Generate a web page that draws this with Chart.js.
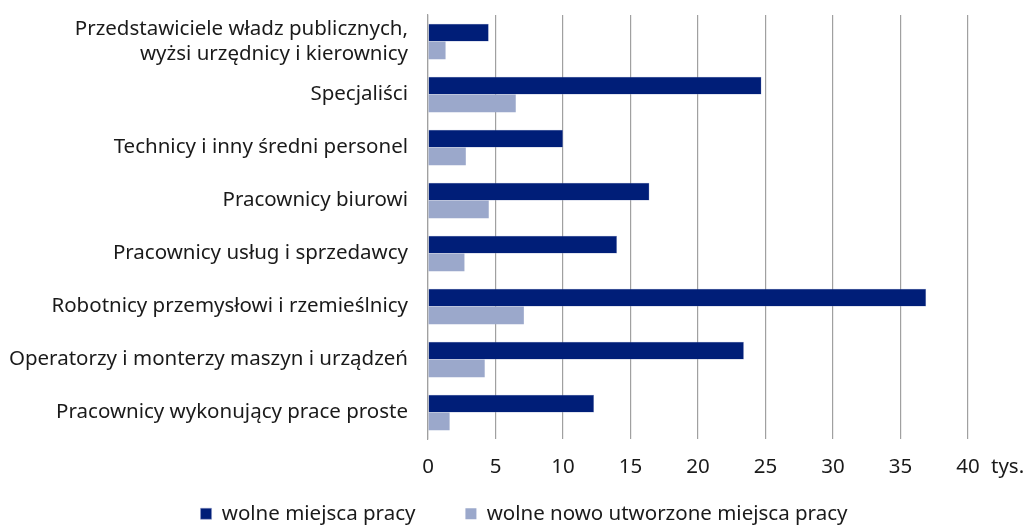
<!DOCTYPE html>
<html lang="pl">
<head>
<meta charset="utf-8">
<script src="https://cdn.jsdelivr.net/npm/chart.js@4"></script>
<style>
  html, body { margin: 0; padding: 0; background: #fff; }
  #wrap { width: 1025px; height: 527px; }
</style>
</head>
<body>
<div id="wrap"><canvas id="barChart"></canvas></div>
<script>
// kategorie zawodów
const categories = [
    ["Przedstawiciele władz publicznych,", "wyżsi urzędnicy i kierownicy"],
    "Specjaliści",
    "Technicy i inny średni personel",
    "Pracownicy biurowi",
    "Pracownicy usług i sprzedawcy",
    "Robotnicy przemysłowi i rzemieślnicy",
    "Operatorzy i monterzy maszyn i urządzeń",
    "Pracownicy wykonujący prace proste"
];

// wartości w tys.
const wolneMiejsca = [4.5, 24.7, 10.0, 16.4, 14.0, 36.9, 23.4, 12.3];
const noweMiejsca = [1.3, 6.5, 2.8, 4.5, 2.7, 7.1, 4.2, 1.6];

const seriesLabels = ["wolne miejsca pracy", "wolne nowo utworzone miejsca pracy"];
const xMax = 40;
const xStep = 5;
const unitLabel = "tys.";

const FONT = "'Noto Sans', sans-serif";
const FONT_SIZE = 20.5;
const PAD_LEFT = 80; // przesuwa legendę w prawo

// napis "tys." za ostatnią etykietą osi X
const unitPlugin = {
    id: "unitLabel",
    afterDraw(chart) {
        const x = chart.scales.x;
        const ctx = chart.ctx;
        ctx.save();
        ctx.font = FONT_SIZE + "px " + FONT;
        ctx.fillStyle = "#1a1a1a";
        ctx.textAlign = "left";
        ctx.textBaseline = "middle";
        ctx.fillText(unitLabel, x.getPixelForValue(xMax) + 23, x.top + 28);
        ctx.restore();
    }
};

function drawBarChart() {
    const ctx = document.getElementById("barChart").getContext("2d");
    new Chart(ctx, {
        type: "bar",
        data: {
            labels: categories,
            datasets: [
                {
                    label: seriesLabels[0],
                    data: wolneMiejsca,
                    backgroundColor: "#001E78",
                    borderColor: "#8a97c4",
                    borderWidth: 0.5
                },
                {
                    label: seriesLabels[1],
                    data: noweMiejsca,
                    backgroundColor: "#9BA8CB",
                    borderWidth: 0
                }
            ]
        },
        options: {
            indexAxis: "y",
            responsive: true,
            maintainAspectRatio: false,
            animation: false,
            layout: { padding: { top: 15, right: 57, left: PAD_LEFT, bottom: -7 } },
            datasets: {
                bar: { categoryPercentage: 0.67, barPercentage: 1 }
            },
            plugins: {
                tooltip: { enabled: false },
                legend: {
                    position: "bottom",
                    labels: {
                        boxWidth: 11,
                        boxHeight: 11,
                        padding: 50,
                        color: "#1a1a1a",
                        font: { family: FONT, size: FONT_SIZE }
                    }
                }
            },
            scales: {
                x: {
                    min: 0,
                    max: xMax,
                    // niska oś, etykiety wchodzą pod legendę (bez przycinania)
                    afterFit: scale => {
                        scale.height = 14.5;
                        scale._computeLabelArea = () => undefined;
                    },
                    grid: { color: "#a0a0a0", lineWidth: 1.2, drawTicks: false },
                    border: { display: false },
                    ticks: {
                        stepSize: xStep,
                        padding: 16,
                        color: "#1a1a1a",
                        font: { family: FONT, size: FONT_SIZE }
                    }
                },
                y: {
                    afterFit: scale => {
                        scale.width = 428 - PAD_LEFT;
                        scale.paddingTop = 0;
                        scale.paddingBottom = 0;
                        scale._computeLabelArea = () => undefined;
                    },
                    grid: { display: false, drawTicks: false },
                    border: { display: true, color: "#a0a0a0", width: 1.2 },
                    ticks: {
                        autoSkip: false,
                        padding: 20,
                        color: "#1a1a1a",
                        font: { family: FONT, size: FONT_SIZE, lineHeight: 1.22 }
                    }
                }
            }
        },
        plugins: [unitPlugin]
    });
}

window.onload = drawBarChart;
</script>
</body>
</html>
